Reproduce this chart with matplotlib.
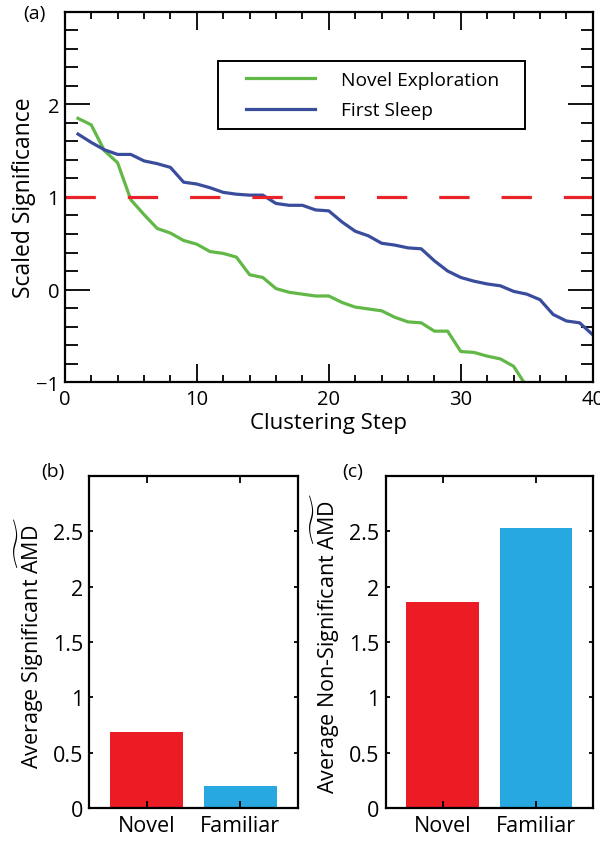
import matplotlib
matplotlib.use('Agg')
import matplotlib.pyplot as plt
from matplotlib.lines import Line2D
from matplotlib.legend_handler import HandlerLine2D
from matplotlib.ticker import MultipleLocator

plt.rcParams['font.family'] = ['Open Sans', 'DejaVu Sans']
plt.rcParams['mathtext.fontset'] = 'custom'
plt.rcParams['mathtext.rm'] = 'Open Sans'
plt.rcParams['mathtext.it'] = 'Open Sans'

# panel (a) data
steps_novel = list(range(1, 36))
novel_exploration = [1.85, 1.78, 1.50, 1.37, 0.97, 0.81, 0.66, 0.61, 0.53, 0.49,
                     0.41, 0.39, 0.35, 0.16, 0.13, 0.01, -0.03, -0.05, -0.07, -0.07,
                     -0.14, -0.19, -0.21, -0.23, -0.30, -0.35, -0.36, -0.45, -0.45, -0.67,
                     -0.68, -0.72, -0.75, -0.83, -1.05]
steps_sleep = list(range(1, 41))
first_sleep = [1.68, 1.59, 1.51, 1.46, 1.46, 1.39, 1.36, 1.32, 1.16, 1.14,
               1.10, 1.05, 1.03, 1.02, 1.02, 0.93, 0.91, 0.91, 0.86, 0.85,
               0.73, 0.63, 0.58, 0.50, 0.48, 0.45, 0.44, 0.31, 0.20, 0.13,
               0.09, 0.06, 0.04, -0.02, -0.05, -0.11, -0.27, -0.34, -0.36, -0.49]
threshold = 1.0

# panels (b) and (c) data
conditions = ['Novel', 'Familiar']
significant_amd = [0.69, 0.20]
nonsignificant_amd = [1.86, 2.53]

GREEN = '#62b846'
BLUE = '#3a4c9c'
RED = '#e8232a'
BAR_RED = '#ec1c24'
BAR_BLUE = '#27a8e0'

fig = plt.figure(figsize=(6, 8.45), dpi=100)

# ---- (a) ----
ax = fig.add_axes([0.108, 0.5467, 0.88, 0.438])
ax.plot(steps_novel, novel_exploration, color=GREEN, lw=2.3, label='Novel Exploration')
ax.plot(steps_sleep, first_sleep, color=BLUE, lw=2.3, label='First Sleep')
ax.axhline(threshold, color=RED, lw=2.3, dashes=(9.5, 10))
ax.set_xlim(0, 40)
ax.set_ylim(-1, 3)
ax.xaxis.set_major_locator(MultipleLocator(10))
ax.xaxis.set_minor_locator(MultipleLocator(2))
ax.yaxis.set_minor_locator(MultipleLocator(0.2))
ax.set_yticks([-1, 0, 1, 2, 3])
ax.set_yticklabels(['\u22121', '0', '1', '2', ''])
ax.tick_params(axis='both', which='both', direction='in', top=True, right=True,
               labelsize=14.5, width=1.3)
ax.tick_params(axis='x', which='major', length=13, pad=5)
ax.tick_params(axis='x', which='minor', length=5)
ax.tick_params(axis='y', which='major', length=18, pad=4)
ax.tick_params(axis='y', which='minor', length=9)
for s in ax.spines.values():
    s.set_linewidth(1.6)
ax.set_xlabel('Clustering Step', fontsize=16, labelpad=2)
ax.set_ylabel('Scaled Significance', fontsize=16.5, labelpad=0)
leg = ax.legend(loc='upper left', bbox_to_anchor=(0.2903, 0.8668 - 0.3, 0.581, 0.3),
                mode='expand', fontsize=13.8, fancybox=False, framealpha=1,
                edgecolor='black', handlelength=4.54, handletextpad=1.39,
                borderpad=0.5, labelspacing=0.65, borderaxespad=0,
                handler_map={Line2D: HandlerLine2D(xpad=0.975)})
leg.get_frame().set_linewidth(1.4)
fig.text(0.058, 0.983, '(a)', fontsize=14, ha='center', va='center')

# ---- (b) and (c) ----
def bar_panel(rect, values, ylabel, tag, tag_x):
    bx = fig.add_axes(rect)
    bx.bar([1, 2], values, width=0.78, color=[BAR_RED, BAR_BLUE])
    bx.set_xlim(0.39, 2.61)
    bx.set_ylim(0, 3)
    bx.set_xticks([1, 2])
    bx.set_xticklabels(conditions)
    bx.set_yticks([0, 0.5, 1, 1.5, 2, 2.5])
    bx.set_yticklabels(['0', '0.5', '1', '1.5', '2', '2.5'])
    bx.tick_params(axis='both', direction='in', top=True, right=True,
                   labelsize=15.5, length=3, width=1.3)
    bx.tick_params(axis='x', pad=5, length=5)
    bx.tick_params(axis='y', pad=4.5)
    for s in bx.spines.values():
        s.set_linewidth(1.6)
    bx.set_ylabel(ylabel, fontsize=15.5, labelpad=5)
    fig.text(tag_x, 0.4414, tag, fontsize=14, ha='center', va='center')
    return bx

bar_panel([0.149, 0.0422, 0.347, 0.3936], significant_amd,
          r'Average Significant $\widetilde{\mathrm{AMD}}$', '(b)', 0.088)
bar_panel([0.643, 0.0422, 0.345, 0.3936], nonsignificant_amd,
          r'Average Non-Significant $\widetilde{\mathrm{AMD}}$', '(c)', 0.587)

fig.savefig('out.png', dpi=100)
